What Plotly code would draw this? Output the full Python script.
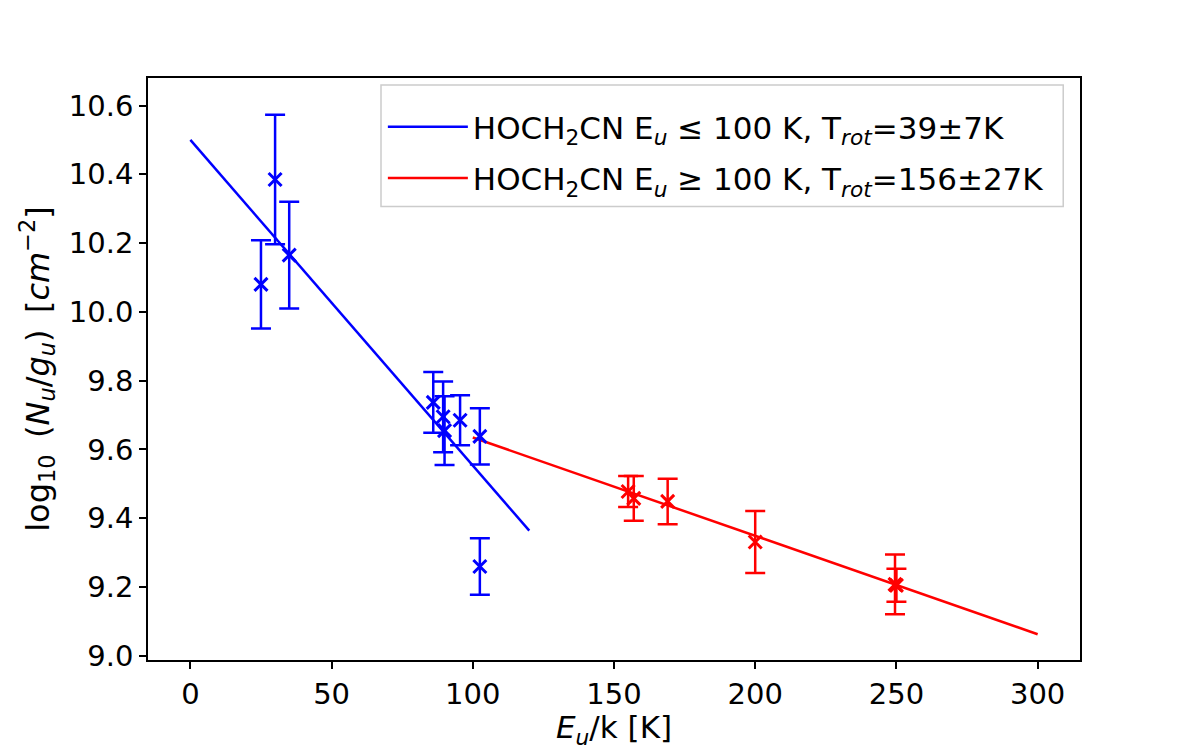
import plotly.graph_objects as go

# Blue data (Eu <= 100 K)
blue_x = [25, 30, 35, 86, 89.5, 90, 95.5, 102.5, 102.5]
blue_y = [10.08, 10.385, 10.165, 9.737, 9.695, 9.655, 9.685, 9.638, 9.26]
blue_err = [0.128, 0.188, 0.155, 0.088, 0.103, 0.10, 0.073, 0.082, 0.082]

# Red data (Eu >= 100 K)
red_x = [155, 157, 169, 200, 249.5, 250]
red_y = [9.478, 9.458, 9.449, 9.331, 9.208, 9.205]
red_err = [0.045, 0.065, 0.066, 0.09, 0.087, 0.048]

# Fit lines
blue_fit_x = [0, 120]
blue_fit_y = [10.50, 9.364]
red_fit_x = [100, 300]
red_fit_y = [9.635, 9.063]

blue_label = "HOCH<sub>2</sub>CN E<sub><i>u</i></sub> \u2264 100 K, T<sub><i>rot</i></sub>=39\u00b17K"
red_label = "HOCH<sub>2</sub>CN E<sub><i>u</i></sub> \u2265 100 K, T<sub><i>rot</i></sub>=156\u00b127K"

x_ticks = [0, 50, 100, 150, 200, 250, 300]
y_ticks = [9.0, 9.2, 9.4, 9.6, 9.8, 10.0, 10.2, 10.4, 10.6]

FONT = "DejaVu Sans"
FS = 29
LFS = 31

fig = go.Figure()

fig.add_trace(go.Scatter(
    x=blue_fit_x, y=blue_fit_y, mode="lines", legendgroup="a",
    line=dict(color="#0000ff", width=2.5), name=blue_label))
fig.add_trace(go.Scatter(
    x=red_fit_x, y=red_fit_y, mode="lines", legendgroup="b",
    line=dict(color="#ff0000", width=2.5), name=red_label))

fig.add_trace(go.Scatter(
    x=blue_x, y=blue_y, mode="markers", showlegend=False,
    marker=dict(symbol="x-thin", size=13, line=dict(color="#0000ff", width=3), color="#0000ff"),
    error_y=dict(type="data", array=blue_err, visible=True, color="#0000ff", thickness=2.5, width=10)))
fig.add_trace(go.Scatter(
    x=red_x, y=red_y, mode="markers", showlegend=False,
    marker=dict(symbol="x-thin", size=13, line=dict(color="#ff0000", width=3), color="#ff0000"),
    error_y=dict(type="data", array=red_err, visible=True, color="#ff0000", thickness=2.5, width=10)))

axis_common = dict(
    showline=True, linecolor="black", linewidth=1.5, mirror=True,
    ticks="outside", ticklen=7, tickwidth=1.5, tickcolor="black",
    showgrid=False, zeroline=False,
    tickfont=dict(family=FONT, size=FS, color="black"),
)

fig.update_layout(
    width=1200, height=750,
    paper_bgcolor="white", plot_bgcolor="white",
    margin=dict(l=148, r=120, t=78, b=83),
    font=dict(family=FONT, size=FS, color="black"),
    xaxis=dict(range=[-15, 315], tickvals=x_ticks,
               title=dict(text="<i>E<sub>u</sub></i>/k [K]", font=dict(family=FONT, size=31), standoff=6),
               **axis_common),
    yaxis=dict(range=[8.988, 10.68], tickvals=y_ticks, tickformat=".1f",
               title=dict(text="log<sub>10</sub> \u2009(<i>N<sub>u</sub></i>/<i>g<sub>u</sub></i>) \u2009[<i>cm</i><sup>\u22122</sup>]",
                          font=dict(family=FONT, size=32), standoff=10),
               **axis_common),
    legend=dict(x=0.252, y=0.962, xanchor="left", yanchor="top",
                bgcolor="rgba(0,0,0,0)", borderwidth=0,
                font=dict(family=FONT, size=LFS), tracegroupgap=8, itemwidth=80),
    showlegend=True,
    shapes=[dict(type="rect", xref="paper", yref="paper",
                 x0=0.25, x1=0.982, y0=0.779, y1=0.988,
                 line=dict(color="#cccccc", width=1.5),
                 fillcolor="rgba(255,255,255,0.8)", layer="above")],
)

fig.write_html("out.html")
